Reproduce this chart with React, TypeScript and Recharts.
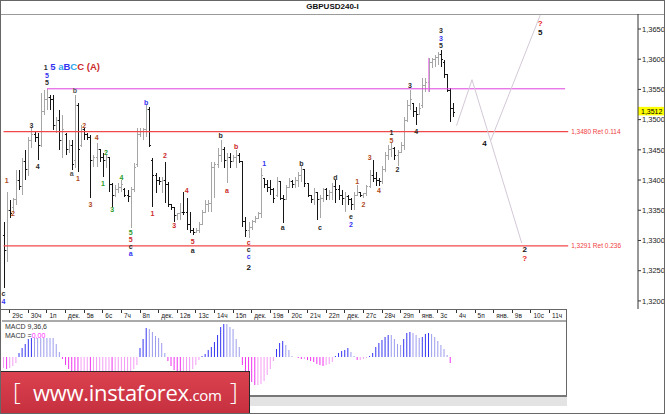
import React from 'react';
import { ComposedChart, Bar, Line, XAxis, YAxis, ReferenceLine, ReferenceDot, Cell } from 'recharts';

const FONT = '"Liberation Sans", Arial, sans-serif';

// ---------- DATA ----------
const opens = [
  1.3309, 1.3284, 1.3350, 1.3354, 1.3367, 1.3400, 1.3390, 1.3430, 1.3417, 1.3466,
  1.3475, 1.3470, 1.3458, 1.3513, 1.3533, 1.3536, 1.3533, 1.3491, 1.3499, 1.3466,
  1.3475, 1.3450, 1.3458, 1.3433, 1.3524, 1.3458, 1.3483, 1.3475, 1.3471, 1.3433,
  1.3437, 1.3450, 1.3438, 1.3433, 1.3437, 1.3392, 1.3375, 1.3384, 1.3387, 1.3385,
  1.3375, 1.3372, 1.3384, 1.3425, 1.3475, 1.3480, 1.3483, 1.3516, 1.3433, 1.3408,
  1.3400, 1.3397, 1.3400, 1.3392, 1.3359, 1.3354, 1.3342, 1.3344, 1.3347, 1.3347,
  1.3326, 1.3317, 1.3314, 1.3317, 1.3326, 1.3347, 1.3359, 1.3362, 1.3420, 1.3425,
  1.3441, 1.3450, 1.3433, 1.3437, 1.3430, 1.3437, 1.3441, 1.3430, 1.3331, 1.3317,
  1.3321, 1.3331, 1.3337, 1.3344, 1.3403, 1.3392, 1.3387, 1.3384, 1.3375, 1.3397,
  1.3370, 1.3367, 1.3387, 1.3397, 1.3392, 1.3400, 1.3408, 1.3417, 1.3395, 1.3375,
  1.3367, 1.3380, 1.3367, 1.3370, 1.3384, 1.3375, 1.3379, 1.3390, 1.3384, 1.3375,
  1.3370, 1.3372, 1.3367, 1.3359, 1.3375, 1.3379, 1.3375, 1.3377, 1.3389, 1.3408,
  1.3403, 1.3400, 1.3397, 1.3417, 1.3440, 1.3450, 1.3453, 1.3441, 1.3446, 1.3458,
  1.3499, 1.3524, 1.3526, 1.3513, 1.3508, 1.3523, 1.3557, 1.3562, 1.3595, 1.3599,
  1.3602, 1.3607, 1.3595, 1.3574, 1.3549, 1.3519,
];
const highs = [
  1.3331, 1.3380, 1.3367, 1.3370, 1.3417, 1.3417, 1.3437, 1.3450, 1.3471, 1.3486,
  1.3480, 1.3478, 1.3544, 1.3549, 1.3551, 1.3541, 1.3541, 1.3504, 1.3516, 1.3508,
  1.3478, 1.3466, 1.3466, 1.3541, 1.3528, 1.3491, 1.3486, 1.3478, 1.3475, 1.3441,
  1.3461, 1.3450, 1.3445, 1.3441, 1.3437, 1.3395, 1.3392, 1.3395, 1.3400, 1.3387,
  1.3384, 1.3389, 1.3428, 1.3486, 1.3486, 1.3486, 1.3524, 1.3521, 1.3437, 1.3412,
  1.3405, 1.3405, 1.3430, 1.3397, 1.3359, 1.3354, 1.3345, 1.3362, 1.3380, 1.3370,
  1.3347, 1.3321, 1.3321, 1.3331, 1.3350, 1.3367, 1.3367, 1.3430, 1.3430, 1.3453,
  1.3466, 1.3455, 1.3445, 1.3445, 1.3441, 1.3450, 1.3445, 1.3430, 1.3339, 1.3331,
  1.3334, 1.3341, 1.3347, 1.3420, 1.3403, 1.3400, 1.3400, 1.3387, 1.3405, 1.3397,
  1.3375, 1.3392, 1.3403, 1.3400, 1.3405, 1.3413, 1.3423, 1.3417, 1.3395, 1.3375,
  1.3387, 1.3380, 1.3375, 1.3387, 1.3387, 1.3384, 1.3395, 1.3400, 1.3392, 1.3384,
  1.3380, 1.3375, 1.3370, 1.3380, 1.3392, 1.3380, 1.3379, 1.3392, 1.3417, 1.3433,
  1.3413, 1.3403, 1.3423, 1.3446, 1.3458, 1.3461, 1.3455, 1.3450, 1.3463, 1.3504,
  1.3533, 1.3549, 1.3528, 1.3521, 1.3528, 1.3569, 1.3569, 1.3602, 1.3602, 1.3607,
  1.3612, 1.3615, 1.3599, 1.3574, 1.3552, 1.3528,
];
const lows = [
  1.3221, 1.3264, 1.3337, 1.3347, 1.3359, 1.3384, 1.3375, 1.3400, 1.3407, 1.3453,
  1.3463, 1.3433, 1.3455, 1.3508, 1.3516, 1.3516, 1.3483, 1.3478, 1.3450, 1.3437,
  1.3441, 1.3445, 1.3417, 1.3420, 1.3413, 1.3455, 1.3466, 1.3466, 1.3370, 1.3422,
  1.3422, 1.3430, 1.3405, 1.3420, 1.3380, 1.3355, 1.3372, 1.3379, 1.3380, 1.3372,
  1.3364, 1.3321, 1.3380, 1.3422, 1.3471, 1.3466, 1.3471, 1.3455, 1.3355, 1.3379,
  1.3392, 1.3379, 1.3362, 1.3355, 1.3350, 1.3331, 1.3334, 1.3334, 1.3342, 1.3317,
  1.3312, 1.3309, 1.3312, 1.3312, 1.3326, 1.3345, 1.3347, 1.3347, 1.3370, 1.3420,
  1.3430, 1.3420, 1.3395, 1.3420, 1.3430, 1.3420, 1.3428, 1.3322, 1.3306, 1.3304,
  1.3317, 1.3329, 1.3336, 1.3337, 1.3387, 1.3380, 1.3375, 1.3362, 1.3372, 1.3367,
  1.3329, 1.3367, 1.3387, 1.3387, 1.3387, 1.3389, 1.3397, 1.3389, 1.3372, 1.3362,
  1.3359, 1.3334, 1.3337, 1.3364, 1.3367, 1.3367, 1.3367, 1.3362, 1.3367, 1.3359,
  1.3347, 1.3359, 1.3350, 1.3350, 1.3374, 1.3372, 1.3370, 1.3374, 1.3387, 1.3397,
  1.3390, 1.3390, 1.3393, 1.3413, 1.3433, 1.3438, 1.3433, 1.3423, 1.3445, 1.3450,
  1.3496, 1.3516, 1.3504, 1.3491, 1.3508, 1.3519, 1.3546, 1.3546, 1.3585, 1.3587,
  1.3590, 1.3587, 1.3569, 1.3546, 1.3496, 1.3504,
];
const closes = [
  1.3284, 1.3350, 1.3344, 1.3367, 1.3400, 1.3390, 1.3430, 1.3417, 1.3466, 1.3475,
  1.3470, 1.3458, 1.3513, 1.3533, 1.3536, 1.3533, 1.3491, 1.3499, 1.3466, 1.3483,
  1.3450, 1.3458, 1.3425, 1.3524, 1.3450, 1.3483, 1.3475, 1.3471, 1.3433, 1.3437,
  1.3450, 1.3438, 1.3433, 1.3437, 1.3392, 1.3375, 1.3384, 1.3387, 1.3392, 1.3375,
  1.3372, 1.3384, 1.3420, 1.3475, 1.3480, 1.3483, 1.3516, 1.3458, 1.3408, 1.3400,
  1.3397, 1.3400, 1.3392, 1.3359, 1.3354, 1.3342, 1.3344, 1.3347, 1.3347, 1.3326,
  1.3317, 1.3314, 1.3317, 1.3326, 1.3347, 1.3359, 1.3362, 1.3420, 1.3425, 1.3441,
  1.3450, 1.3433, 1.3437, 1.3430, 1.3437, 1.3441, 1.3430, 1.3331, 1.3317, 1.3321,
  1.3331, 1.3337, 1.3344, 1.3408, 1.3392, 1.3387, 1.3384, 1.3370, 1.3397, 1.3370,
  1.3367, 1.3387, 1.3397, 1.3392, 1.3400, 1.3408, 1.3417, 1.3395, 1.3375, 1.3367,
  1.3380, 1.3367, 1.3370, 1.3384, 1.3375, 1.3379, 1.3390, 1.3384, 1.3375, 1.3370,
  1.3372, 1.3367, 1.3359, 1.3375, 1.3379, 1.3375, 1.3377, 1.3389, 1.3408, 1.3403,
  1.3400, 1.3397, 1.3417, 1.3440, 1.3450, 1.3453, 1.3441, 1.3446, 1.3458, 1.3499,
  1.3524, 1.3533, 1.3513, 1.3508, 1.3519, 1.3557, 1.3562, 1.3595, 1.3599, 1.3602,
  1.3607, 1.3599, 1.3574, 1.3549, 1.3519, 1.3512,
];

const macdHist = [
  -11, -12, -11, -9, -6, 4, 9, 13, 18, 19,
  19, 19, 19, 19, 19, 19, 19, 13, 5, -2,
  -8, -12, -14, -15, -16, -16, -16, -16, -17, -17,
  -16, -16, -16, -16, -16, -17, -17, -16, -15, -15,
  -14, -14, -12, -8, 9, 18, 29, 28, 25, 21,
  19, 14, 4, -4, -9, -13, -15, -16, -16, -15,
  -14, -12, -8, -3, 1, 3, 7, 10, 15, 22,
  30, 33, 33, 30, 28, 18, 10, -8, -14, -20,
  -25, -28, -28, -27, -24, -18, -12, -4, 8, 14,
  16, 12, 7, 1, 0, -1, -2, -2, -3, -4,
  -5, -7, -8, -9, -8, -7, -5, 1, 4, 6,
  7, 9, 5, 1, -3, -3, -2, -1, 1, 4,
  10, 14, 17, 20, 22, 22, 18, 13, 12, 18,
  24, 25, 24, 22, 19, 20, 23, 24, 23, 20,
  16, 12, 8, 2, -6,
];

const dayLabels = ['29с', '30ч', '1п', 'дек.', '5в', '6с', '7ч', '8п', 'дек.', '12в', '13с', '14ч', '15п', 'дек.', '19в', '20с', '21ч', '22п', 'дек.', '27с', '28ч', '29п', 'янв.', '3с', '4ч', '5п', 'янв.', '9в', '10с', '11ч'];
const BARS_PER_DAY = 6;
const FIRST_DAY_SLOT = 2;

const priceTicks = [1.32, 1.325, 1.33, 1.335, 1.34, 1.345, 1.35, 1.355, 1.36, 1.365];
const PRICE_TOP = 1.36748;
const PRICE_BOTTOM = 1.31866;

const projASlots = [146, 151, 167];
const projAPrices = [1.3490, 1.3566, 1.3296];
const projBSlots = [157, 173];
const projBPrices = [1.3465, 1.3673];

const magentaLevel = 1.3551;
const magentaFrom = 14;
const magentaTo = 181;
const markerSlot = 137;
const markerLow = 1.3546;
const markerHigh = 1.3602;
const retPrices = [1.3480, 1.3291];
const retTexts = ['1,3480 Ret 0.114', '1,3291 Ret 0.236'];

// [slot, price, text, tone]
const waveLabels: [number, number, string, string][] = [
  [14, 1.3573, '5', 'b'], [14, 1.3561, '5', 'k'], [9, 1.3491, '3', 'k'],
  [1, 1.3400, '1', 'o'], [3, 1.3344, '2', 'o'], [11, 1.3422, '4', 'k'],
  [22, 1.3410, 'a', 'gr'], [23, 1.3549, 'b', 'gr'], [24, 1.3403, '1', 'o'],
  [26, 1.3491, '2', 'o'], [28, 1.3360, '3', 'o'], [30, 1.3470, '4', 'o'],
  [33, 1.3445, '2', 'g'], [32, 1.3395, '1', 'g'], [35, 1.3352, '3', 'g'],
  [38, 1.3405, '4', 'g'], [41, 1.3313, '5', 'g'], [41, 1.3301, '5', 'r'],
  [41, 1.3290, 'c', 'k'], [41, 1.3279, 'a', 'b'], [46, 1.3529, 'b', 'b'],
  [48, 1.3345, '1', 'r'], [52, 1.3440, '2', 'r'], [55, 1.3324, '3', 'r'],
  [59, 1.3382, '4', 'r'], [61, 1.3298, '5', 'r'], [61, 1.3284, 'a', 'k'],
  [70, 1.3473, 'b', 'k'], [72, 1.3382, 'a', 'r'], [75, 1.3456, 'b', 'r'],
  [79, 1.3297, 'c', 'r'], [79, 1.3285, 'c', 'k'], [79, 1.3273, 'c', 'b'],
  [79, 1.3256, '2', 'K'], [84, 1.3428, '1', 'b'], [90, 1.3322, 'a', 'k'],
  [96, 1.3428, 'b', 'k'], [102, 1.3322, 'c', 'k'], [107, 1.3405, 'd', 'k'],
  [112, 1.3340, 'e', 'k'], [112, 1.3326, '2', 'b'], [114, 1.3397, '1', 'o'],
  [116, 1.3360, '2', 'o'], [118, 1.3438, '3', 'o'], [121, 1.3382, '4', 'o'],
  [125, 1.3479, '1', 'k'], [125, 1.3466, '5', 'o'], [127, 1.3418, '2', 'k'],
  [131, 1.3557, '3', 'k'], [133, 1.3480, '4', 'k'], [141, 1.3647, '3', 'k'],
  [141, 1.3635, '3', 'b'], [141, 1.3623, '5', 'k'], [155, 1.3461, '4', 'K'],
  [173, 1.3659, '?', 'R'], [173, 1.3645, '5', 'K'], [168, 1.3285, '2', 'K'],
  [168, 1.3271, '?', 'R'], [0, 1.3212, 'c', 'k'], [0, 1.3199, '4', 'b'],
];
const titleSlot = 22;
const titlePrice = 1.3587;
const titleParts: [string, string][] = [['1', 'k'], [' 5', 'b'], [' a', 'c'], ['B', 'b'], ['C', 'c'], ['C', 'r'], [' (A)', 'r']];

// ---------- STYLES ----------
const TONES: Record<string, { fill: string; size: number }> = {
  k: { fill: '#2a2a2a', size: 7 },
  gr: { fill: '#555555', size: 7 },
  b: { fill: '#3434f0', size: 7 },
  c: { fill: '#2fa8ee', size: 7 },
  r: { fill: '#cc2a2a', size: 7 },
  o: { fill: '#b04a22', size: 7 },
  g: { fill: '#2a9a2a', size: 7 },
  K: { fill: '#111111', size: 8 },
  R: { fill: '#e82020', size: 8 },
};

const SLOTS_MAIN = 205;
const SLOTS_MACD = 182;

const mainRows = Array.from({ length: SLOTS_MAIN }, (_, i) => {
  const has = i < opens.length;
  const a = projASlots.indexOf(i);
  const b = projBSlots.indexOf(i);
  return {
    i,
    range: has ? [lows[i], highs[i]] : null,
    o: has ? opens[i] : null,
    h: has ? highs[i] : null,
    l: has ? lows[i] : null,
    c: has ? closes[i] : null,
    pa: a >= 0 ? projAPrices[a] : null,
    pb: b >= 0 ? projBPrices[b] : null,
  };
});

const macdRows = Array.from({ length: SLOTS_MACD }, (_, i) => ({
  i,
  m: i < macdHist.length ? macdHist[i] : null,
}));

const daySlots = dayLabels.map((_, k) => FIRST_DAY_SLOT + BARS_PER_DAY * k);

const fmtPrice = (v: number) => v.toFixed(4).replace('.', ',');

const macdColor = (i: number) => {
  const v = macdHist[i];
  const prev = i > 0 ? macdHist[i - 1] : v;
  if (v >= 0) return v > prev ? '#3535f2' : '#9c9cee';
  return v < prev ? '#f030f0' : '#f49cf4';
};

const OhlcShape = (props: any) => {
  const { x, y, width, height, payload } = props;
  if (!payload || payload.h == null || !isFinite(y) || !isFinite(height)) return <g />;
  const top = Math.min(y, y + height);
  const bot = Math.max(y, y + height);
  const span = payload.h - payload.l;
  const py = (p: number) => (span === 0 ? top : top + ((payload.h - p) / span) * (bot - top));
  const cx = Math.round(x + width / 2) + 0.5;
  const color = payload.c > payload.o ? '#a6a6a6' : '#151515';
  return (
    <g stroke={color} strokeWidth={1} shapeRendering="crispEdges">
      <line x1={cx} x2={cx} y1={top} y2={Math.max(bot, top + 1)} />
      <line x1={cx - 1.5} x2={cx} y1={py(payload.o)} y2={py(payload.o)} />
      <line x1={cx} x2={cx + 1.5} y1={py(payload.c)} y2={py(payload.c)} />
    </g>
  );
};

const PriceTag = (props: any) => {
  const { viewBox, tag } = props;
  if (!viewBox) return null;
  const x = viewBox.x + viewBox.width;
  const y = viewBox.y;
  return (
    <g>
      <rect x={x} y={y - 5.5} width={27} height={8.5} fill="#ffff00" />
      <text x={x + 3} y={y + 1.8} fontSize={7} fill="#000" fontFamily={FONT}>{tag}</text>
    </g>
  );
};

const GroupLabel = (props: any) => {
  const { viewBox, parts } = props;
  if (!viewBox) return null;
  return (
    <text x={viewBox.x} y={viewBox.y + 3} textAnchor="middle" fontFamily={FONT} fontWeight="bold">
      {parts.map((p: [string, string], k: number) => (
        <tspan key={k} fill={TONES[p[1]].fill} fontSize={k === 0 ? 7 : 9.5}>{p[0]}</tspan>
      ))}
    </text>
  );
};

const DayTick = (props: any) => {
  const { x, y, payload } = props;
  const k = daySlots.indexOf(payload.value);
  return (
    <g>
      <line x1={x} x2={x} y1={y - 12} y2={y - 8} stroke="#333" shapeRendering="crispEdges" />
      <text x={x + 2.5} y={y - 3.5} fontSize={6.5} fill="#222" fontFamily={FONT}>{k >= 0 ? dayLabels[k] : ''}</text>
    </g>
  );
};

export default function App() {
  const last = closes[closes.length - 1];
  return (
    <div style={{ position: 'absolute', left: 0, top: 0, width: 665, height: 414, background: '#fff', overflow: 'hidden', fontFamily: FONT }}>
      <div style={{ position: 'absolute', left: 0, top: 0, width: 665, height: 14, lineHeight: '14px', textAlign: 'center', fontSize: 8, fontWeight: 'bold', color: '#111' }}>GBPUSD240-I</div>
      <div style={{ position: 'absolute', left: 0, top: 14, width: 665, height: 1, background: '#9a9a9a' }} />

      <div style={{ position: 'absolute', left: 0, top: 0 }}>
        <ComposedChart width={665} height={414} data={mainRows} margin={{ top: 14, right: 0, bottom: 105, left: 2 }} barCategoryGap={0}>
          <XAxis dataKey="i" type="category" hide />
          <YAxis
            orientation="right"
            width={27}
            domain={[PRICE_BOTTOM, PRICE_TOP]}
            ticks={priceTicks}
            allowDataOverflow
            interval={0}
            tickFormatter={fmtPrice}
            tick={{ fontSize: 7.5, fill: '#222', fontFamily: FONT }}
            tickSize={3}
            tickMargin={1}
            axisLine={{ stroke: '#333' }}
            tickLine={{ stroke: '#333' }}
          />
          <ReferenceLine segment={[{ x: magentaFrom, y: magentaLevel }, { x: magentaTo, y: magentaLevel }]} stroke="#e040e0" strokeWidth={1} />
          {retPrices.map((p, k) => (
            <ReferenceLine
              key={'ret' + k}
              segment={[{ x: 0, y: p }, { x: 182, y: p }]}
              stroke="#f04848"
              strokeWidth={1.3}
              label={{ value: retTexts[k], position: 'right', offset: 3, fill: '#f04040', fontSize: 6.5, fontFamily: FONT }}
            />
          ))}
          <Bar dataKey="range" shape={<OhlcShape />} isAnimationActive={false} />
          <ReferenceLine segment={[{ x: markerSlot, y: markerLow }, { x: markerSlot, y: markerHigh }]} stroke="#f070f0" strokeWidth={0.8} />
          <Line dataKey="pa" connectNulls dot={false} stroke="#d3c8d6" strokeWidth={1} isAnimationActive={false} />
          <Line dataKey="pb" connectNulls dot={false} stroke="#d3c8d6" strokeWidth={1} isAnimationActive={false} />
          <ReferenceLine y={last} stroke="none" label={<PriceTag tag={fmtPrice(last)} />} />
          {waveLabels.map((w, k) => (
            <ReferenceDot
              key={'w' + k}
              x={w[0]}
              y={w[1]}
              r={0}
              stroke="none"
              fill="none"
              label={{ value: w[2], position: 'center', fill: TONES[w[3]].fill, fontSize: TONES[w[3]].size, fontWeight: 'bold', fontFamily: FONT }}
            />
          ))}
          <ReferenceDot x={titleSlot} y={titlePrice} r={0} stroke="none" fill="none" label={<GroupLabel parts={titleParts} />} />
        </ComposedChart>
      </div>

      <div style={{ position: 'absolute', left: 0, top: 0 }}>
        <ComposedChart width={665} height={414} data={macdRows} margin={{ top: 309, right: 98.4, bottom: 19, left: 2 }} barCategoryGap={0}>
          <XAxis
            dataKey="i"
            type="category"
            orientation="top"
            height={12}
            ticks={daySlots}
            interval={0}
            tick={<DayTick />}
            tickLine={false}
            tickSize={0}
            tickMargin={0}
            axisLine={{ stroke: '#555' }}
          />
          <YAxis hide domain={[-38, 36]} allowDataOverflow />
          <Bar dataKey="m" barSize={1} isAnimationActive={false}>
            {macdRows.map((r, i) => (
              <Cell key={i} fill={i < macdHist.length ? macdColor(i) : 'none'} />
            ))}
          </Bar>
        </ComposedChart>
      </div>

      <div style={{ position: 'absolute', left: 0, top: 309, width: 567, height: 1, background: '#666' }} />
      <div style={{ position: 'absolute', left: 566, top: 309, width: 1, height: 87, background: '#666' }} />
      <div style={{ position: 'absolute', left: 0, top: 395, width: 567, height: 2, background: '#777' }} />
      <div style={{ position: 'absolute', left: 250, top: 397, width: 317, height: 9, background: '#e3e3e3' }} />

      <div style={{ position: 'absolute', left: 5, top: 323, fontSize: 7, lineHeight: '8px', color: '#333' }}>MACD 9,36,6</div>
      <div style={{ position: 'absolute', left: 5, top: 332, fontSize: 7, lineHeight: '8px', color: '#333' }}>
        MACD =<span style={{ color: '#ff22ff' }}>0,00</span>
      </div>

      <div style={{ position: 'absolute', left: 0, top: 371, width: 250, height: 43, background: 'linear-gradient(#dc4250, #c52f3e)', borderTop: '1px solid #2a2a2a', borderRight: '1px solid #2a2a2a', boxSizing: 'border-box', color: '#fff', fontFamily: '"Open Sans", sans-serif' }}>
        <span style={{ position: 'absolute', left: 13, top: 5, fontSize: 24, fontWeight: 300, lineHeight: '28px' }}>[</span>
        <span style={{ position: 'absolute', left: 33, top: 6, fontSize: 22, lineHeight: '28px', letterSpacing: -0.3 }}>
          www.instaforex<span style={{ fontSize: 15 }}>.com</span>
        </span>
        <span style={{ position: 'absolute', left: 230, top: 5, fontSize: 24, fontWeight: 300, lineHeight: '28px' }}>]</span>
      </div>

      <div style={{ position: 'absolute', left: 0, top: 0, width: 665, height: 414, border: '1px solid #666', boxSizing: 'border-box', pointerEvents: 'none' }} />
    </div>
  );
}
